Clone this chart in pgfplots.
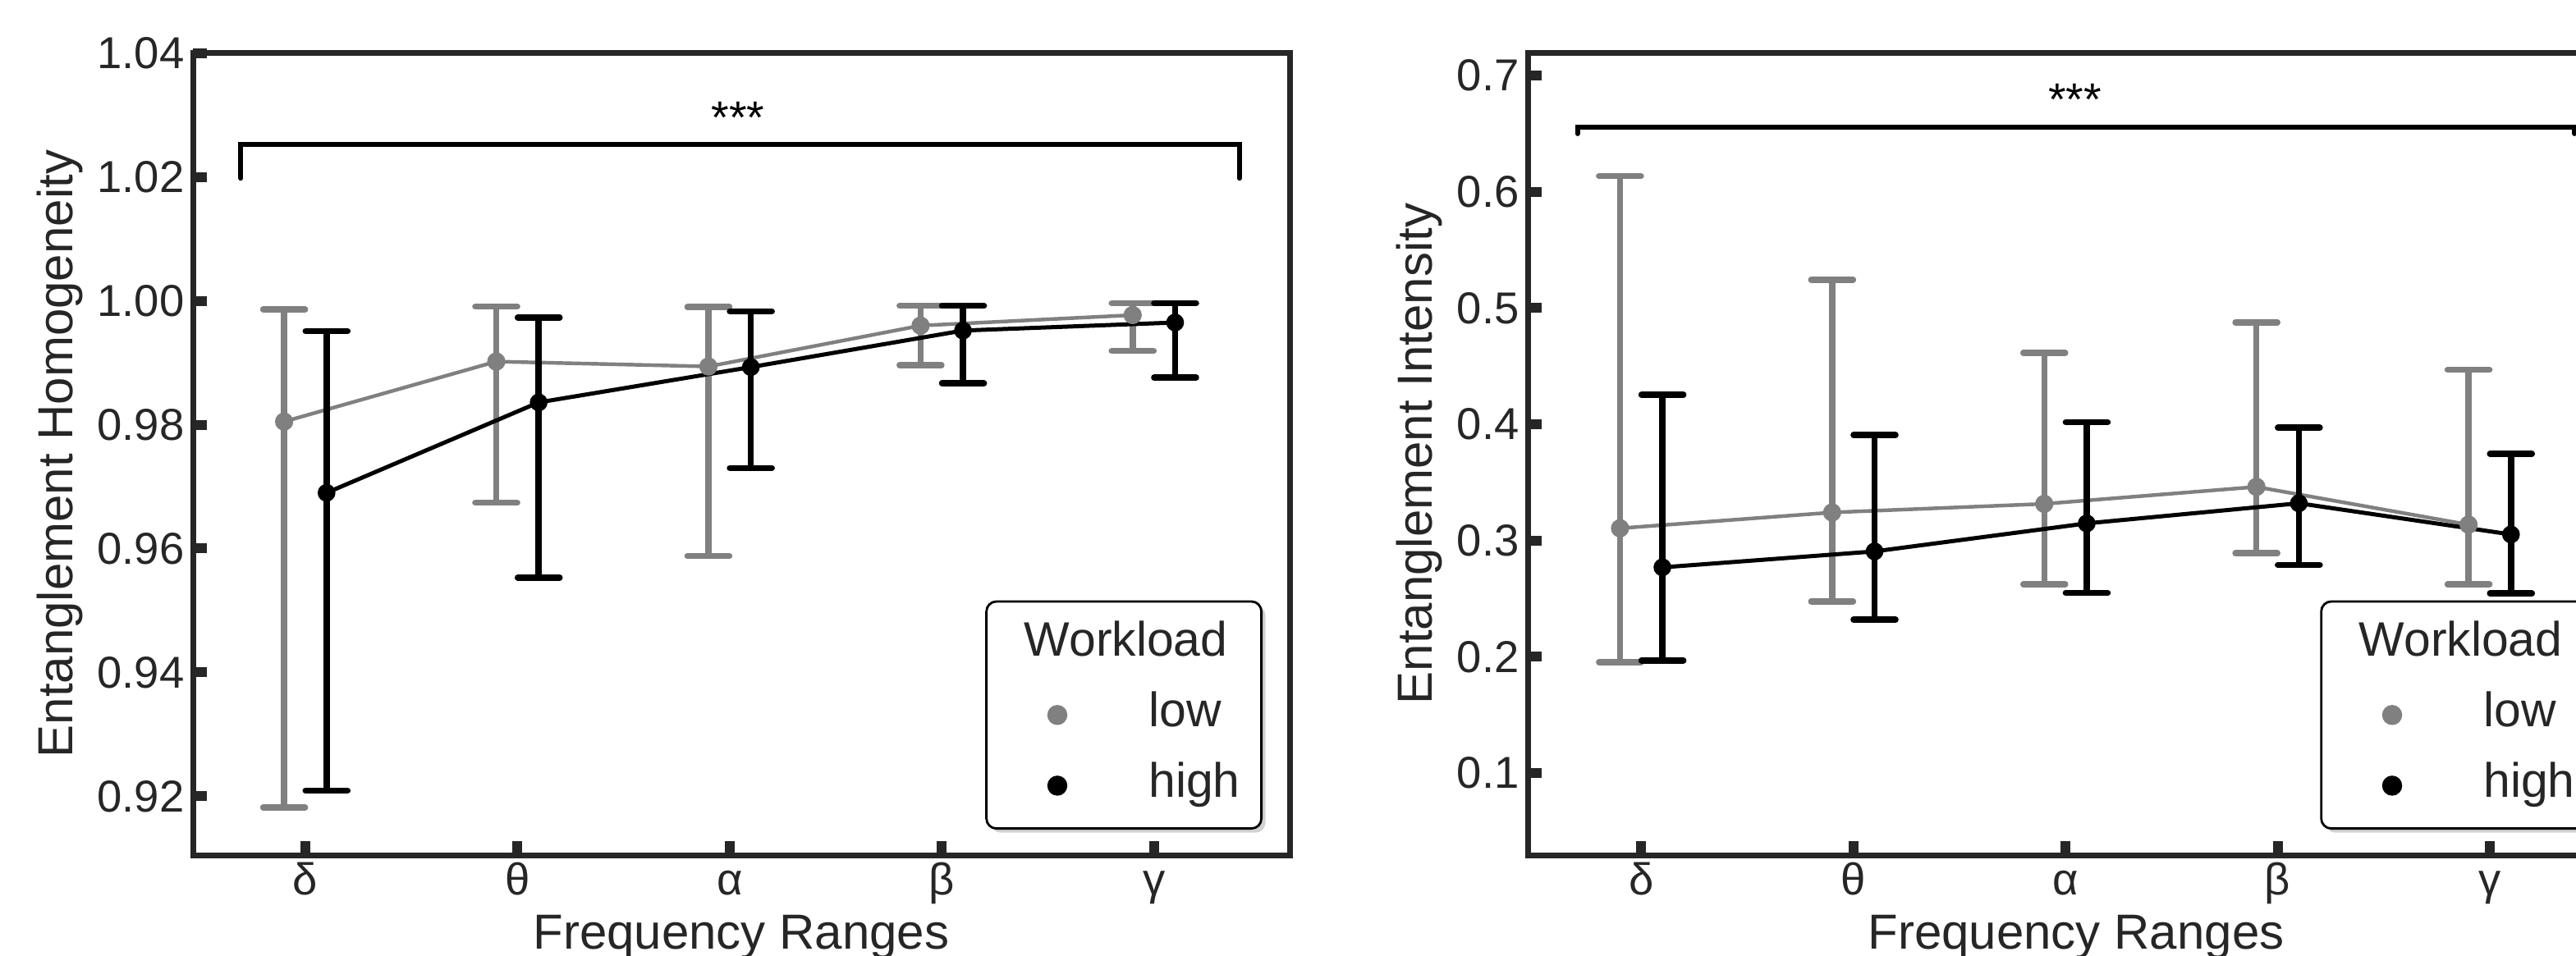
\documentclass[border=0pt]{standalone}
\usepackage{fontspec}
\setmainfont{Liberation Sans}
\usepackage{pgfplots}
\usepackage{pgfplotstable}
\pgfplotsset{compat=1.18}
\usetikzlibrary{shadows}

\definecolor{axc}{RGB}{38,38,38}
\definecolor{lowc}{RGB}{128,128,128}

% mean and CI bounds per frequency band (0=delta ... 4=gamma)
\pgfplotstableread{
x m lo hi
0 0.9805 0.9182 0.9986
1 0.9902 0.9674 0.9991
2 0.9894 0.9588 0.9990
3 0.9960 0.9896 0.9992
4 0.9977 0.9919 0.9996
}\homlow
\pgfplotstableread{
x m lo hi
0 0.9690 0.9209 0.9951
1 0.9836 0.9553 0.9973
2 0.9893 0.9730 0.9983
3 0.9952 0.9867 0.9992
4 0.9965 0.9876 0.9996
}\homhigh
\pgfplotstableread{
x m lo hi
0 0.3106 0.1953 0.6135
1 0.3242 0.2477 0.5244
2 0.3316 0.2624 0.4615
3 0.3462 0.2891 0.4877
4 0.3137 0.2624 0.4469
}\intlow
\pgfplotstableread{
x m lo hi
0 0.2770 0.1969 0.4254
1 0.2907 0.2320 0.3908
2 0.3148 0.2550 0.4018
3 0.3321 0.2791 0.3971
4 0.3053 0.2545 0.3745
}\inthigh

\pgfplotsset{
  panel/.style={
    scale only axis, width=240.48pt, height=176.04pt,
    xmin=-0.53, xmax=4.64, clip=false,
    xtick={0,1,2,3,4}, xticklabels={δ,θ,α,β,γ},
    tick pos=left, tick align=inside,
    major tick length=3pt,
    every tick/.style={axc, line width=2.16pt},
    axis line style={axc, line width=1.26pt},
    tick label style={font=\fontsize{9.8}{11}\selectfont, text=axc},
    xticklabel style={anchor=base, yshift=-8.8pt},
    yticklabel style={anchor=east, inner sep=0pt, xshift=-1.7pt},
    /pgf/number format/assume math mode=true,
    yticklabel={\pgfmathprintnumber{\tick}},
    label style={font=\fontsize{10.8}{12}\selectfont, text=axc},
    xlabel={Frequency Ranges},
    xlabel style={at={(rel axis cs:0.5,-0.1166)}, anchor=base},
    legend cell align=left,
    legend style={draw=black, line width=0.5pt, rounded corners=2.2pt, fill=white,
      drop shadow={shadow xshift=0.9pt, shadow yshift=-0.9pt, fill=black!35},
      at={(rel axis cs:0.9753,0.0317)}, anchor=south east,
      inner xsep=0pt, inner ysep=4.4pt, row sep=5.5pt, column sep=0pt,
      font=\fontsize{10.6}{12}\selectfont, text=axc,
      nodes={inner sep=0pt, text height=7.6pt, text depth=2.4pt}},
    error bars/y dir=both, error bars/y explicit,
  },
  lowser/.style={lowc, line width=0.8pt, mark=*, mark size=1.85pt,
    mark options={solid, fill=lowc, draw=lowc, line width=0.3pt},
    error bars/error bar style={lowc, line width=1.35pt},
    error bars/error mark options={rotate=90, lowc, line width=1.35pt, mark size=4.6pt, line cap=round},
    legend image code/.code={\path (0pt,0pt) (34.7pt,0pt);
      \draw[##1, mark size=2.05pt] plot coordinates {(15.1pt,0pt)};}},
  highser/.style={black, line width=0.9pt, mark=*, mark size=1.8pt,
    mark options={solid, fill=black, draw=black, line width=0.3pt},
    error bars/error bar style={black, line width=1.35pt},
    error bars/error mark options={rotate=90, black, line width=1.35pt, mark size=4.6pt, line cap=round},
    legend image code/.code={\path (0pt,0pt) (34.7pt,0pt);
      \draw[##1, mark size=2.05pt] plot coordinates {(15.1pt,0pt)};}},
}

\newcommand{\legtitle}{\makebox[24.7pt][l]{\hspace*{-5pt}\makebox[0pt]{Workload}}}

\begin{document}
\begin{tikzpicture}
\useasboundingbox (0,0) rectangle (564.84pt,209.52pt);
\clip (0,0) rectangle (564.84pt,209.52pt);

\begin{axis}[panel, at={(42.3pt,21.96pt)}, anchor=south west,
  ymin=0.9105, ymax=1.0401,
  ytick={0.92,0.94,0.96,0.98,1.00,1.02,1.04},
  yticklabel style={/pgf/number format/.cd, fixed, fixed zerofill, precision=2},
  ylabel={Entanglement Homogeneity},
  ylabel style={at={(rel axis cs:-0.1093,0.5)}, anchor=base},
]
\addlegendimage{empty legend}
\addplot[lowser] table[x expr=\thisrow{x}-0.1, y=m,
  y error plus expr=\thisrow{hi}-\thisrow{m}, y error minus expr=\thisrow{m}-\thisrow{lo}] {\homlow};
\addplot[highser] table[x expr=\thisrow{x}+0.1, y=m,
  y error plus expr=\thisrow{hi}-\thisrow{m}, y error minus expr=\thisrow{m}-\thisrow{lo}] {\homhigh};
\addplot[forget plot, black, mark=none, line width=1.08pt, line cap=round]
  coordinates {(-0.304,1.0198) (-0.304,1.0253) (4.403,1.0253) (4.403,1.0198)};
\node[font=\fontsize{10}{12}\selectfont, anchor=base] at (axis cs:2.04,1.0270) {***};
\legend{\legtitle,low,high}
\end{axis}

\begin{axis}[panel, at={(334.98pt,21.96pt)}, anchor=south west,
  xmin=-0.535, xmax=4.635,
  ymin=0.0295, ymax=0.7198,
  ytick={0.1,0.2,0.3,0.4,0.5,0.6,0.7},
  yticklabel style={/pgf/number format/.cd, fixed, fixed zerofill, precision=1},
  ylabel={Entanglement Intensity},
  ylabel style={at={(rel axis cs:-0.0873,0.5)}, anchor=base},
]
\addlegendimage{empty legend}
\addplot[lowser] table[x expr=\thisrow{x}-0.1, y=m,
  y error plus expr=\thisrow{hi}-\thisrow{m}, y error minus expr=\thisrow{m}-\thisrow{lo}] {\intlow};
\addplot[highser] table[x expr=\thisrow{x}+0.1, y=m,
  y error plus expr=\thisrow{hi}-\thisrow{m}, y error minus expr=\thisrow{m}-\thisrow{lo}] {\inthigh};
\addplot[forget plot, black, mark=none, line width=1.08pt, line cap=round]
  coordinates {(-0.30,0.650) (-0.30,0.6555) (4.40,0.6555) (4.40,0.650)};
\node[font=\fontsize{10}{12}\selectfont, anchor=base] at (axis cs:2.044,0.6655) {***};
\legend{\legtitle,low,high}
\end{axis}
\end{tikzpicture}
\end{document}
